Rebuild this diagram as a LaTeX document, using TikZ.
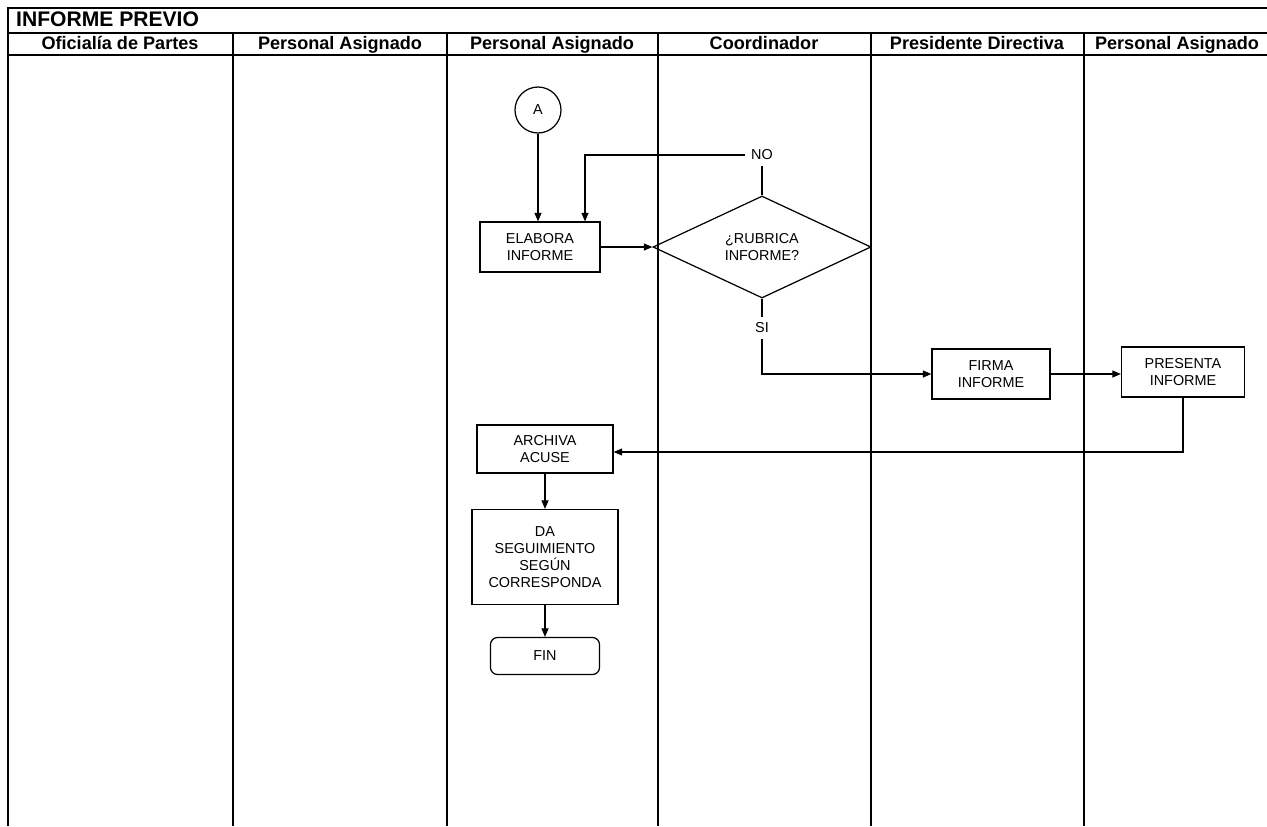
\documentclass[tikz,border=0pt]{standalone}
\usepackage{fontspec}
\setmainfont{Liberation Sans}
\usetikzlibrary{arrows.meta,shapes.geometric}
\begin{document}
\begin{tikzpicture}[x=0.2mm,y=-0.2mm,color=black,
  lane/.style={line width=0.8pt},
  lanehead/.style={font=\fontsize{10.3}{12}\selectfont\bfseries,text height=1.6ex,text depth=0.4ex},
  proc/.style={draw,rectangle,line width=0.7pt,align=center,inner sep=1pt,font=\fontsize{8.2}{9.6}\selectfont},
  arr/.style={line width=0.6pt,-{Triangle[length=1.7mm,width=1.4mm]}},
  conn/.style={line width=0.6pt}]
\useasboundingbox (0,0) rectangle (1267,826);
\fill[white] (0,0) rectangle (1267,826);

\draw[lane] (1267,8) -- (8,8) -- (8,826);
\draw[lane] (8,33) -- (1267,33);
\draw[lane] (8,55) -- (1267,55);
\foreach \x in {233,447,658,871,1084}
  \draw[lane] (\x,33) -- (\x,826);

\node(title) [anchor=west,font=\fontsize{12}{14}\selectfont\bfseries] at (10,19) {INFORME PREVIO};
\node(h1) [lanehead] at (120,44) {Oficialía de Partes};
\node(h2) [lanehead] at (340,44) {Personal Asignado};
\node(h3) [lanehead] at (552,44) {Personal Asignado};
\node(h4) [lanehead] at (764,44) {Coordinador};
\node(h5) [lanehead] at (977,44) {Presidente Directiva};
\node(h6) [lanehead] at (1177,44) {Personal Asignado};

\node(A) [draw,circle,line width=0.7pt,minimum size=9.2mm,inner sep=0pt,font=\fontsize{8.2}{9.6}\selectfont] at (538,110) {A};
\node(elabora) [proc,minimum width=24mm,minimum height=10mm] at (540,247) {ELABORA\\INFORME};
\node(rubrica) [draw,diamond,line width=0.7pt,minimum width=43.6mm,minimum height=20.4mm,inner sep=0pt,align=center,font=\fontsize{8.2}{9.6}\selectfont] at (762,247) {¿RUBRICA\\INFORME?};
\node(no) [font=\fontsize{8.2}{9.6}\selectfont] at (762,155) {NO};
\node(si) [font=\fontsize{8.2}{9.6}\selectfont] at (762,328) {SI};
\node(firma) [proc,minimum width=23.6mm,minimum height=10mm] at (991,374) {FIRMA\\INFORME};
\node(presenta) [proc,minimum width=24.6mm,minimum height=10mm] at (1183,372) {PRESENTA\\INFORME};
\node(archiva) [proc,minimum width=27.2mm,minimum height=9.6mm] at (545,449) {ARCHIVA\\ACUSE};
\node(seguimiento) [proc,minimum width=29.2mm,minimum height=19mm] at (545,557) {DA\\SEGUIMIENTO\\SEGÚN\\CORRESPONDA};
\node(fin) [proc,rounded corners=4pt,minimum width=21.8mm,minimum height=7.4mm] at (545,656) {FIN};

\draw[arr] (A) -- (A |- elabora.north);
\draw[conn] (rubrica.north) -- (no);
\draw[arr] (no.west) -| ([xshift=9mm]elabora.north);
\draw[arr] (elabora) -- (rubrica.west);
\draw[conn] (rubrica.south) -- (si);
\draw[arr] (si.south) |- (firma.west);
\draw[arr] (firma) -- (presenta.west |- firma);
\draw[arr] (presenta.south) |- ([yshift=-0.6mm]archiva.east);
\draw[arr] (archiva) -- (seguimiento);
\draw[arr] (seguimiento) -- (fin);
\end{tikzpicture}
\end{document}
